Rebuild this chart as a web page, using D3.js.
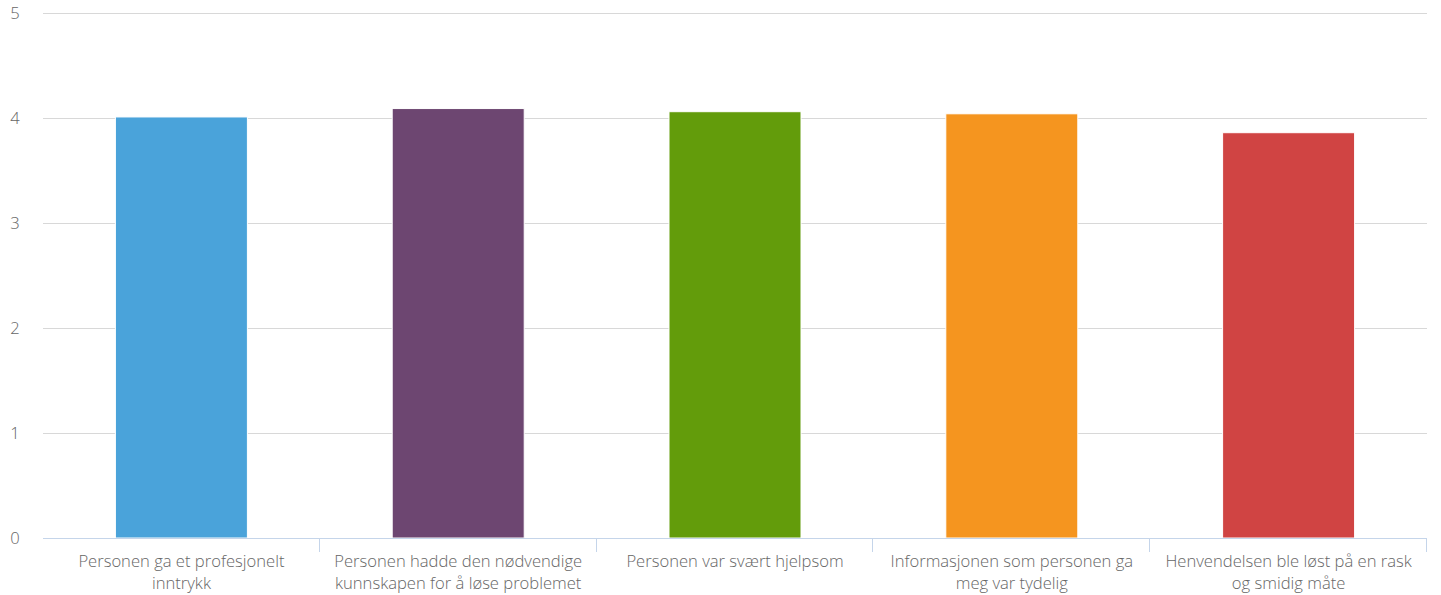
<!DOCTYPE html>
<html><head><meta charset="utf-8">
<script src="https://cdn.jsdelivr.net/npm/d3@7"></script>
<style>body{margin:0;background:#fff}svg{display:block}text{font-family:"Open Sans",sans-serif;font-weight:300}</style>
</head><body><svg id="c" width="1441" height="595"></svg>
<script>
const categories = [
  ["Personen ga et profesjonelt", "inntrykk"],
  ["Personen hadde den nødvendige", "kunnskapen for å løse problemet"],
  ["Personen var svært hjelpsom"],
  ["Informasjonen som personen ga", "meg var tydelig"],
  ["Henvendelsen ble løst på en rask", "og smidig måte"]
];
const values = [4.01, 4.09, 4.06, 4.04, 3.86];
const colors = ["#4aa3da", "#6d4671", "#639c0b", "#f5951f", "#d04443"];
const yTicks = [0, 1, 2, 3, 4, 5];

(function () {
const svg = d3.select("#c");
const mLeft = 43, mRight = 1427, mTop = 13, mBottom = 538;
const fs = 16.6;
const x = d3.scaleBand().domain(d3.range(categories.length)).range([mLeft, mRight]).paddingInner(0).paddingOuter(0);
const y = d3.scaleLinear().domain([0, 5]).range([mBottom, mTop]);

svg.append("g").selectAll("line").data(yTicks.filter(d => d > 0)).join("line")
  .attr("x1", mLeft).attr("x2", mRight)
  .attr("y1", d => Math.round(y(d)) + 0.5).attr("y2", d => Math.round(y(d)) + 0.5)
  .attr("stroke", "#d8d8d8").attr("stroke-width", 1);

svg.append("g").selectAll("text").data(yTicks).join("text")
  .attr("x", 15).attr("y", d => y(d) + 6)
  .attr("text-anchor", "middle").attr("font-size", fs).attr("fill", "#666")
  .text(d => d);

const bw = 132;
svg.append("g").selectAll("rect").data(values).join("rect")
  .attr("x", (d, i) => x(i) + x.bandwidth() / 2 - bw / 2)
  .attr("width", bw)
  .attr("y", d => y(d))
  .attr("height", d => y(0) - y(d))
  .attr("fill", (d, i) => colors[i])
  .attr("stroke", "#fff").attr("stroke-width", 1);

svg.append("line").attr("x1", mLeft).attr("x2", mRight)
  .attr("y1", mBottom + 0.5).attr("y2", mBottom + 0.5)
  .attr("stroke", "#c5d5ea").attr("stroke-width", 1);
svg.append("g").selectAll("line").data(d3.range(1, categories.length + 1)).join("line")
  .attr("x1", i => Math.round(mLeft + i * x.bandwidth()) - 0.5)
  .attr("x2", i => Math.round(mLeft + i * x.bandwidth()) - 0.5)
  .attr("y1", mBottom).attr("y2", mBottom + 14)
  .attr("stroke", "#c5d5ea").attr("stroke-width", 1);

const lab = svg.append("g").selectAll("text").data(categories).join("text")
  .attr("text-anchor", "middle").attr("font-size", fs).attr("fill", "#666")
  .attr("transform", (d, i) => `translate(${x(i) + x.bandwidth() / 2},0)`);
lab.selectAll("tspan").data(d => d).join("tspan")
  .attr("x", 0).attr("y", (d, j) => 567 + j * 22).text(d => d);
})();
</script></body></html>
